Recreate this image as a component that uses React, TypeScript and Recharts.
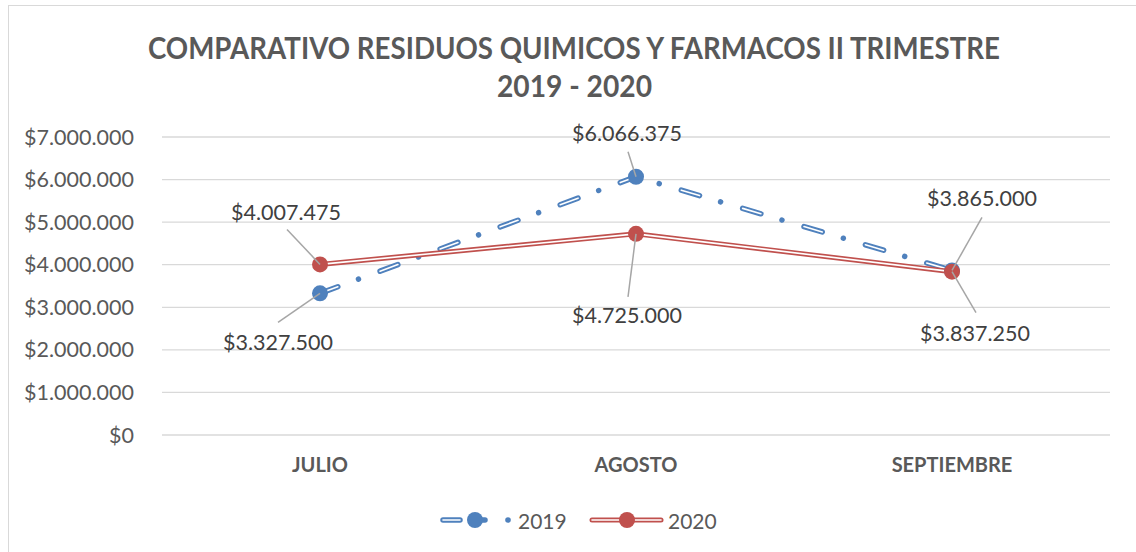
import { LineChart, Line, XAxis, YAxis, CartesianGrid, LabelList } from 'recharts';

const months = ['JULIO', 'AGOSTO', 'SEPTIEMBRE'];
const values2019 = [3327500, 6066375, 3865000];
const values2020 = [4007475, 4725000, 3837250];
const yTicks = [0, 1000000, 2000000, 3000000, 4000000, 5000000, 6000000, 7000000];
const seriesNames = ['2019', '2020'];
const titleLines = ['COMPARATIVO RESIDUOS QUIMICOS Y FARMACOS II TRIMESTRE', '2019 - 2020'];

const BLUE = '#4f81bd';
const RED = '#c0504d';
const FONT = 'Lato, "Noto Sans", sans-serif';

const data = months.map((m, i) => ({ month: m, y2019: values2019[i], y2020: values2020[i] }));

const money = (v: number) => '$' + String(Math.round(v)).replace(/\B(?=(\d{3})+(?!\d))/g, '.');

// label placement relative to the point: text centre (dx, dy) and end of leader line (lx, ly)
const labelPos2019 = [
  { dx: -42, dy: 49, lx: -42, ly: 29 },
  { dx: -9, dy: -44, lx: -8, ly: -25 },
  { dx: 30, dy: -72, lx: 30, ly: -53 },
];
const labelPos2020 = [
  { dx: -34, dy: -52, lx: -33, ly: -35 },
  { dx: -9, dy: 81, lx: -8, ly: 63 },
  { dx: 23, dy: 61, lx: 24, ly: 41 },
];

const leaderLabel = (pos: { dx: number; dy: number; lx: number; ly: number }[]) => (props: any) => {
  const x = props.x ?? props.viewBox?.x;
  const y = props.y ?? props.viewBox?.y;
  const o = pos[props.index];
  if (x == null || y == null || !o) return null;
  return (
    <g>
      <line x1={x} y1={y} x2={x + o.lx} y2={y + o.ly} stroke="#a6a6a6" strokeWidth={1.5} />
      <text
        x={x + o.dx}
        y={y + o.dy}
        textAnchor="middle"
        dominantBaseline="central"
        fill="#404040"
        fontSize={21.5}
        fontFamily={FONT}
      >
        {money(props.value)}
      </text>
    </g>
  );
};

export default function App() {
  return (
    <div style={{ position: 'absolute', left: 0, top: 0, width: 1136, height: 552, overflow: 'hidden', background: '#fff' }}>
      <div style={{ position: 'absolute', left: 8, top: 5, width: 1140, height: 560, border: '1px solid #d9d9d9' }} />
      <svg width={1136} height={110} style={{ position: 'absolute', left: 0, top: 0 }}>
        <text x={574} y={59} textAnchor="middle" fontFamily={FONT} fontWeight={700} fontSize={30} fill="#595959"
          textLength={852} lengthAdjust="spacingAndGlyphs">
          {titleLines[0]}
        </text>
        <text x={574.5} y={97} textAnchor="middle" fontFamily={FONT} fontWeight={700} fontSize={30} fill="#595959"
          textLength={155} lengthAdjust="spacingAndGlyphs">
          {titleLines[1]}
        </text>
      </svg>
      <div style={{ position: 'absolute', left: 0, top: 0 }}>
        <LineChart width={1136} height={552} data={data} margin={{ top: 137, right: 26, bottom: 77, left: 12 }}>
          <CartesianGrid horizontal vertical={false} stroke="#d9d9d9" strokeWidth={1.3} />
          <XAxis
            dataKey="month"
            padding={{ left: 158, right: 158 }}
            axisLine={false}
            tickLine={false}
            tickSize={0}
            tickMargin={23}
            height={40}
            interval={0}
            tick={{ fill: '#595959', fontSize: 20, fontWeight: 700, fontFamily: FONT }}
          />
          <YAxis
            domain={[0, 7000000]}
            ticks={yTicks}
            width={150}
            axisLine={false}
            tickLine={false}
            tickSize={0}
            tickMargin={28}
            tickFormatter={money}
            tick={{ fill: '#595959', fontSize: 21.5, fontFamily: FONT }}
          />
          <Line
            dataKey="y2019"
            stroke={BLUE}
            strokeWidth={5.5}
            strokeDasharray="19 22 0.01 23"
            strokeLinecap="round"
            dot={false}
            activeDot={false}
            isAnimationActive={false}
          />
          <Line
            dataKey="y2019"
            stroke="#ffffff"
            strokeWidth={1.6}
            strokeDasharray="19 45.01"
            strokeLinecap="round"
            dot={{ r: 8, fill: BLUE, stroke: BLUE, strokeWidth: 0, strokeDasharray: '0' }}
            activeDot={false}
            isAnimationActive={false}
          >
            <LabelList dataKey="y2019" content={leaderLabel(labelPos2019)} />
          </Line>
          <Line
            dataKey="y2020"
            stroke={RED}
            strokeWidth={5}
            dot={false}
            activeDot={false}
            isAnimationActive={false}
          />
          <Line
            dataKey="y2020"
            stroke="#ffffff"
            strokeWidth={1.6}
            dot={{ r: 8, fill: RED, stroke: RED, strokeWidth: 0 }}
            activeDot={false}
            isAnimationActive={false}
          >
            <LabelList dataKey="y2020" content={leaderLabel(labelPos2020)} />
          </Line>
        </LineChart>
      </div>
      <svg width={1136} height={40} style={{ position: 'absolute', left: 0, top: 500 }}>
        <g>
          <line x1={443} y1={20} x2={460} y2={20} stroke={BLUE} strokeWidth={5.5} strokeLinecap="round" />
          <line x1={443} y1={20} x2={460} y2={20} stroke="#fff" strokeWidth={1.6} strokeLinecap="round" />
          <circle cx={475} cy={20} r={8} fill={BLUE} />
          <line x1={480} y1={20} x2={485} y2={20} stroke={BLUE} strokeWidth={5.5} strokeLinecap="round" />
          <circle cx={508} cy={20} r={2.8} fill={BLUE} />
          <text x={518} y={20} dominantBaseline="central" fontSize={21} fontFamily={FONT} fill="#595959">
            {seriesNames[0]}
          </text>
        </g>
        <g>
          <line x1={592} y1={20} x2={661} y2={20} stroke={RED} strokeWidth={5} strokeLinecap="round" />
          <line x1={592} y1={20} x2={661} y2={20} stroke="#fff" strokeWidth={1.6} strokeLinecap="round" />
          <circle cx={627} cy={20} r={8} fill={RED} />
          <text x={668} y={20} dominantBaseline="central" fontSize={21} fontFamily={FONT} fill="#595959">
            {seriesNames[1]}
          </text>
        </g>
      </svg>
    </div>
  );
}
